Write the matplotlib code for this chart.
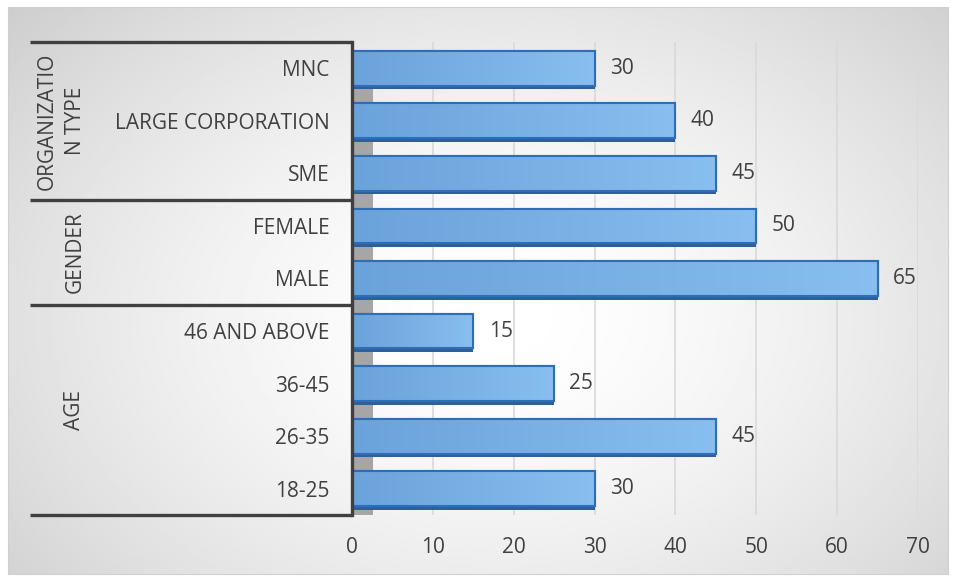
import numpy as np
import matplotlib.pyplot as plt
from matplotlib.colors import LinearSegmentedColormap
from matplotlib.patches import Rectangle, Polygon

plt.rcParams['font.family'] = ['Open Sans', 'DejaVu Sans']

# data
categories = ["MNC", "LARGE CORPORATION", "SME", "FEMALE", "MALE",
              "46 AND ABOVE", "36-45", "26-35", "18-25"]
values = [30, 40, 45, 50, 65, 15, 25, 45, 30]
groups = ["ORGANIZATIO\nN TYPE", "GENDER", "AGE"]
group_sizes = [3, 2, 4]
xticks = [0, 10, 20, 30, 40, 50, 60, 70]

txt = "#404040"
fs = 15
fig = plt.figure(figsize=(9.56, 5.81), dpi=100)

# background with soft gradient
bg = fig.add_axes([0.008, 0.012, 0.984, 0.976])
yy, xx = np.mgrid[0:1:200j, 0:1:300j]
r = np.sqrt(((xx - 0.52) / 0.75) ** 2 + ((yy - 0.55) / 0.9) ** 2)
bg.imshow(1 - 0.22 * np.clip(r, 0, 1) ** 1.6, cmap="gray", vmin=0, vmax=1,
          aspect="auto", extent=[0, 1, 0, 1])
bg.set_xticks([]); bg.set_yticks([])
for s in bg.spines.values():
    s.set_color("#d0d0d0")

ax = fig.add_axes([352 / 956, 1 - 515 / 581, (918 - 352) / 956, (515 - 42) / 581])
ax.set_facecolor("none")
n = len(categories)
ypos = np.arange(n)

# side wall
ax.add_patch(Polygon([[0, -0.3], [2.6, 0.0], [2.6, n - 0.5], [0, n - 0.5]],
                     closed=True, color="#a6a6a6", zorder=1, lw=0))

# grid
for t in xticks[1:]:
    ax.axvline(t, color="#d9d9d9", lw=1.2, zorder=0.5)

# bars
cmap = LinearSegmentedColormap.from_list("b", ["#6aa2da", "#88bff0"])
grad = np.linspace(0, 1, 256).reshape(1, -1)
h = 0.66
for y, v in zip(ypos, values):
    ax.barh(y + h / 2 + 0.03, v, height=0.08, color="#2f5f9a", zorder=2, lw=0)
    bars = ax.barh(y, v, height=h, color="#6fa8dc", edgecolor="#2f6db5",
                   lw=1.5, zorder=3)
    im = ax.imshow(grad, cmap=cmap, aspect="auto", zorder=3.5,
                   extent=[0, v, y + h / 2, y - h / 2])
    im.set_clip_path(bars.patches[0])
    ax.add_patch(Rectangle((0, y - h / 2), v, h, fill=False,
                           edgecolor="#2f6db5", lw=1.5, zorder=4))
    ax.annotate(str(v), (v, y), xytext=(11, 0), textcoords="offset points",
                va="center", ha="left", fontsize=fs, color=txt)
ax.set_xlim(0, 70)
ax.set_ylim(n - 0.5, -0.5)

ax.set_yticks(ypos)
ax.set_yticklabels(categories, fontsize=fs, color=txt)
ax.tick_params(axis="y", length=0, pad=16)
ax.set_xticks(xticks)
ax.tick_params(axis="x", length=0, pad=16, labelsize=fs, labelcolor=txt)
for s in ["top", "right", "bottom"]:
    ax.spines[s].set_visible(False)
ax.spines["left"].set_color("#404040")
ax.spines["left"].set_linewidth(2.4)
ax.spines["left"].set_zorder(6)

# grouped category axis
tr = ax.get_yaxis_transform()
x0 = (30 - 352) / (918 - 352)
start = -0.5
ax.plot([x0, 0], [start, start], transform=tr, color="#404040", lw=2.4,
        clip_on=False, solid_capstyle="butt")
for g, sz in zip(groups, group_sizes):
    end = start + sz
    ax.plot([x0, 0], [end, end], transform=tr, color="#404040", lw=2.4,
            clip_on=False, solid_capstyle="butt")
    gx = 61 if "\n" in g else 75
    ax.text((gx - 352) / (918 - 352), (start + end) / 2, g, transform=tr,
            rotation=90, ha="center", va="center", fontsize=fs, color=txt,
            linespacing=1.45)
    start = end

fig.savefig("out.png", dpi=100)
